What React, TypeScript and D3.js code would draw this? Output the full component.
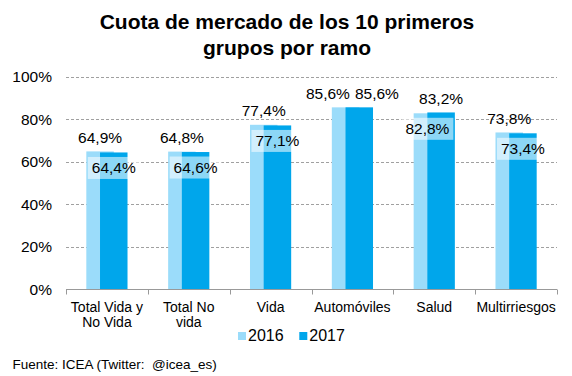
import React from "react";
import * as d3 from "d3";

const categories = ["Total Vida y\nNo Vida", "Total No\nvida", "Vida", "Automóviles", "Salud", "Multirriesgos"];
const seriesNames = ["2016", "2017"];
const values2016 = [64.9, 64.8, 77.4, 85.6, 82.8, 73.8];
const values2017 = [64.4, 64.6, 77.1, 85.6, 83.2, 73.4];
const yTicks = [0, 20, 40, 60, 80, 100];
const titleLines = ["Cuota de mercado de los 10 primeros", "grupos por ramo"];
const sourceText = "Fuente: ICEA (Twitter:  @icea_es)";

const W = 572;
const H = 376;
const FONT = "'Liberation Sans', Arial, sans-serif";
const C16 = "#9BDCFA";
const C17 = "#00A6EB";

let ctx: CanvasRenderingContext2D | null = null;
function measure(text: string, size: number) {
  if (!ctx) ctx = document.createElement("canvas").getContext("2d");
  if (!ctx) return text.length * size * 0.55;
  ctx.font = `${size}px ${FONT}`;
  return ctx.measureText(text).width;
}

const fmt = (v: number) => v.toFixed(1).replace(".", ",") + "%";

export default function App() {
  const left = 66;
  const right = 557;
  const y0 = 289.5;
  const y100 = 76.7;
  const x = d3.scaleBand<string>().domain(categories).range([left, right]).padding(0);
  const y = d3.scaleLinear().domain([0, 100]).range([y0, y100]);
  const barW = 27.5;
  const offs = [-20.6, -6.9];
  const labelSize = 15.5;

  const series = [values2016, values2017];
  const colors = [C16, C17];

  const labels: any[] = [];
  categories.forEach((c, i) => {
    const cx = (x(c) as number) + x.bandwidth() / 2;
    const vals = [values2016[i], values2017[i]];
    const centers = offs.map((o) => cx + o + barW / 2);
    if (vals[0] === vals[1]) {
      vals.forEach((v, s) => {
        const t = fmt(v);
        const w = measure(t, labelSize);
        const lx = s === 0 ? cx - w / 2 - 2.5 : cx + w / 2 + 2.5;
        labels.push({ key: `${i}-${s}`, x: lx, y: y(v) - 8.5, text: t, box: false, w });
      });
    } else {
      const hi = vals[0] > vals[1] ? 0 : 1;
      vals.forEach((v, s) => {
        const t = fmt(v);
        const w = measure(t, labelSize);
        if (s === hi) {
          labels.push({ key: `${i}-${s}`, x: centers[s], y: y(v) - 8.5, text: t, box: false, w });
        } else {
          labels.push({ key: `${i}-${s}`, x: centers[s], y: y(v) + 4.5 + 16.5, text: t, box: true, w, top: y(v) + 4.5 });
        }
      });
    }
  });

  const boundaries = categories.map((c) => x(c) as number).concat([right]);

  return (
    <svg width={W} height={H} style={{ position: "absolute", left: 0, top: 0, background: "#fff" }} fontFamily={FONT}>
      <rect x={0} y={0} width={W} height={H} fill="#fff" />
      {titleLines.map((t, i) => (
        <text key={t} x={287} y={29 + i * 26} textAnchor="middle" fontSize={21} fontWeight="bold" fill="#000">
          {t}
        </text>
      ))}
      {yTicks.filter((t) => t > 0).map((t) => (
        <line key={t} x1={left} x2={right} y1={Math.round(y(t)) + 0.5} y2={Math.round(y(t)) + 0.5} stroke="#A0A0A0" strokeWidth={1} strokeDasharray="3,2" />
      ))}
      {yTicks.map((t) => (
        <text key={t} x={52} y={y(t) + 5.5} textAnchor="end" fontSize={15.5} fill="#000">
          {t + "%"}
        </text>
      ))}
      {series.map((vals, s) =>
        vals.map((v, i) => {
          const cx = (x(categories[i]) as number) + x.bandwidth() / 2;
          return (
            <rect key={`${s}-${i}`} x={cx + offs[s]} y={y(v)} width={barW} height={y0 - y(v)} fill={colors[s]} />
          );
        })
      )}
      <line x1={left} x2={right} y1={y0} y2={y0} stroke="#999" strokeWidth={1} />
      {boundaries.map((b, i) => (
        <line key={i} x1={Math.round(b) + 0.5} x2={Math.round(b) + 0.5} y1={y0} y2={y0 + 5} stroke="#999" strokeWidth={1} />
      ))}
      {labels.map((l) => (
        <g key={l.key}>
          {l.box && <rect x={l.x - l.w / 2 - 4} y={l.top} width={l.w + 8} height={22} fill="#fff" fillOpacity={0.55} />}
          <text x={l.x} y={l.y} textAnchor="middle" fontSize={labelSize} fill="#000">
            {l.text}
          </text>
        </g>
      ))}
      {categories.map((c) => {
        const cx = (x(c) as number) + x.bandwidth() / 2;
        return (
          <text key={c} x={cx} y={312} textAnchor="middle" fontSize={14} fill="#000">
            {c.split("\n").map((ln, j) => (
              <tspan key={j} x={cx} dy={j === 0 ? 0 : 14.5}>
                {ln}
              </tspan>
            ))}
          </text>
        );
      })}
      {seriesNames.map((n, i) => {
        const lx = [238, 299.3][i];
        return (
          <g key={n}>
            <rect x={lx} y={332} width={8} height={8} fill={colors[i]} />
            <text x={lx + 10} y={340.5} fontSize={16} fill="#000">
              {n}
            </text>
          </g>
        );
      })}
      <text x={12.5} y={369} fontSize={13.5} fill="#000" style={{ whiteSpace: "pre" }}>
        {sourceText}
      </text>
    </svg>
  );
}
